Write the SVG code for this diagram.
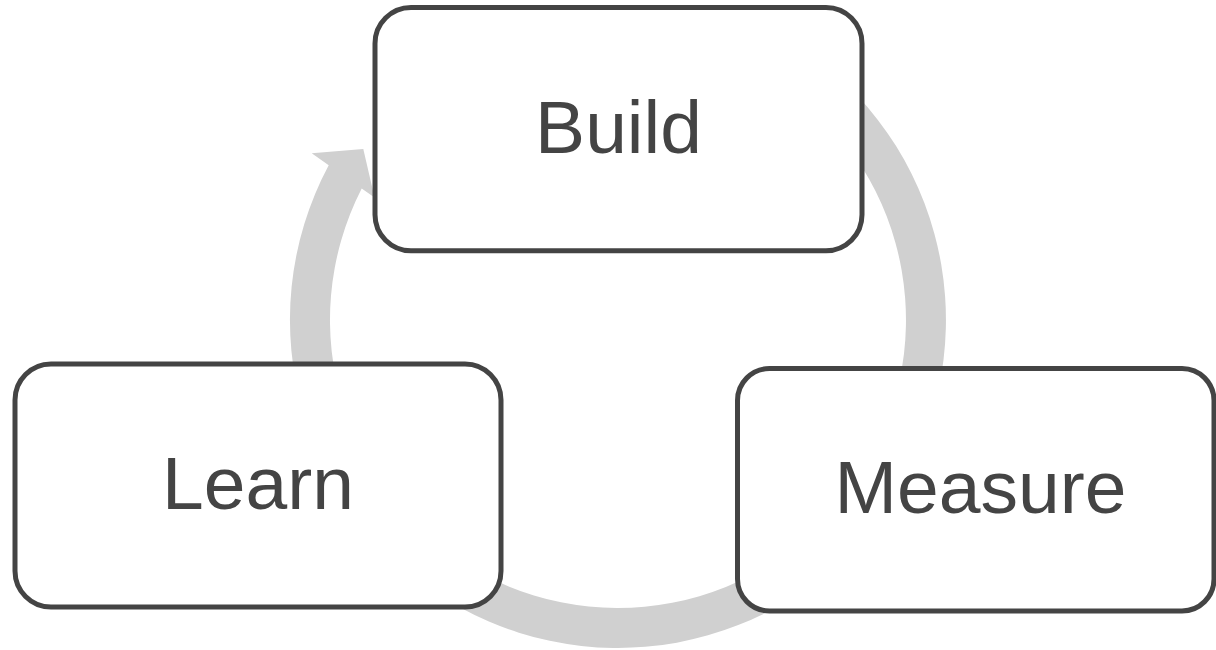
<svg xmlns="http://www.w3.org/2000/svg" width="1216" height="650" viewBox="0 0 1216 650">
  <style>
    .box { fill: #ffffff; stroke: #444444; stroke-width: 5; }
    .label { font-family: "Liberation Sans", Arial, sans-serif; font-size: 75px; fill: #444444; text-anchor: middle; }
    .cycle { fill: #d0d0d0; stroke: none; }
  </style>
  <rect width="1216" height="650" fill="#ffffff"/>
  <g id="connectors">
    <path class="cycle" d="M 782 35.94 A 328 328 0 1 1 328.7 165.3 L 311.7 153.3 L 363.3 149 L 374.5 197.6 L 361.7 188.6 A 288 288 0 1 0 762 70.6 Z"/>
  </g>
  <g id="node-build">
    <rect class="box" x="375" y="7.5" width="487" height="243.3" rx="36" ry="36"/>
    <text class="label" x="618.5" y="153">Build</text>
  </g>
  <g id="node-learn">
    <rect class="box" x="15" y="364" width="486" height="243" rx="36" ry="36"/>
    <text class="label" x="258" y="509">Learn</text>
  </g>
  <g id="node-measure">
    <rect class="box" x="737.5" y="368.5" width="476.5" height="242.5" rx="32" ry="32"/>
    <text class="label" x="980.5" y="513">Measure</text>
  </g>
</svg>
